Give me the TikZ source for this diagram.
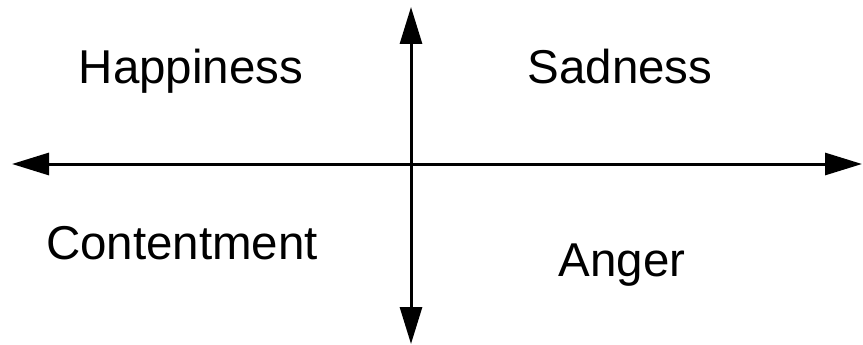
\documentclass[tikz,border=0pt]{standalone}
\usepackage{fontspec}
\setmainfont{Liberation Sans}
\usetikzlibrary{arrows.meta}
\begin{document}
\begin{tikzpicture}[x=1pt,y=-1pt,
  axis/.style={line width=3pt,{Triangle[length=37pt,width=22pt]}-{Triangle[length=37pt,width=22pt]}},
  lbl/.style={anchor=base,inner sep=0pt,font=\fontsize{47.5}{52}\selectfont}]
\useasboundingbox (0,0) rectangle (863,345);
\coordinate (L) at (12,164);
\coordinate (R) at (862,164);
\coordinate (T) at (411,7);
\coordinate (B) at (411,344);
\draw[axis] (L) -- (R);
\draw[axis] (T) -- (B);
\node[lbl] (hap) at (191,84) {Happiness};
\node[lbl] (sad) at (620,84) {Sadness};
\node[lbl] (con) at (182,259) {Contentment};
\node[lbl] (ang) at (622,276) {Anger};
\end{tikzpicture}
\end{document}
